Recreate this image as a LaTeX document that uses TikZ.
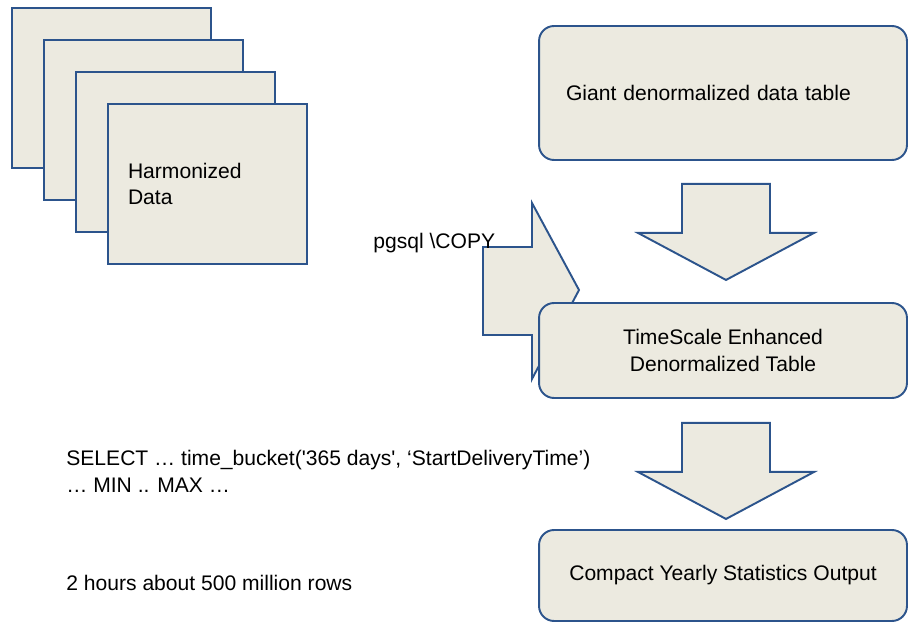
\documentclass[tikz,border=0pt]{standalone}
\usepackage{fontspec}
\setmainfont{Liberation Sans}
\usetikzlibrary{positioning,calc}
\definecolor{dbfill}{RGB}{236,234,224}
\definecolor{dbline}{RGB}{44,84,140}

\begin{document}
\begin{tikzpicture}[x=0.02cm, y=-0.02cm,
    font=\fontsize{12}{15.3}\selectfont,
    page/.style={draw=dbline, fill=dbfill, line width=1.1pt, minimum width=3.98cm, minimum height=3.2cm,
        inner xsep=0.4cm, text width=3.18cm, align=left},
    tablebox/.style={draw=dbline, fill=dbfill, line width=1.1pt, rounded corners=0.3cm, minimum width=7.36cm},
    bigarrow/.style={draw=dbline, fill=dbfill, line width=1.1pt, line join=miter},
    note/.style={inner sep=0pt, anchor=west, align=left}]
    \useasboundingbox (0,0) rectangle (909,625);

    % Stack of harmonized data sheets
    \foreach \i in {0,1,2} {
        \node[page] (page\i) at (111.5+32*\i, 88+32*\i) {};
    }
    \node[page] (page3) at (207.5,184) {Harmonized\\Data};

    % Source table and first step down
    \node[tablebox, minimum height=2.68cm, inner xsep=0.54cm, text width=6.28cm, align=left] (giant) at (723,93)
        {Giant denormalized data table};
    \draw[bigarrow] ($(giant.south)+(-41,23)$) -- ++(88,0) -- ++(0,49) -- ++(44,0)
        -- ++(-88,47) -- ++(-88,-47) -- ++(44,0) -- cycle;

    % COPY arrow, partly hidden behind the hypertable
    \draw[bigarrow] (483,247) -- (532,247) -- (532,203) -- (579,290) -- (532,379) -- (532,335) -- (483,335) -- cycle;
    \node[note] (copy) at (373,243) {pgsql \textbackslash COPY};

    % Hypertable and aggregation step
    \node[tablebox, minimum height=1.9cm, align=center] (hyper) at (723,350.5)
        {TimeScale Enhanced\\Denormalized Table};
    \draw[bigarrow] ($(hyper.south)+(-41,24)$) -- ++(88,0) -- ++(0,49) -- ++(44,0)
        -- ++(-88,47) -- ++(-88,-47) -- ++(44,0) -- cycle;
    \node[tablebox, minimum height=1.82cm] (stats) at (723,575.5) {Compact Yearly Statistics Output};

    % Query and timing notes
    \node[note] (query) at (66,471.5)
        {SELECT … time\_bucket(\textquotesingle 365 days\textquotesingle, ‘StartDeliveryTime’)\\… MIN .. MAX …};
    \node[note] (timing) at (66,583) {2 hours about 500 million rows};
\end{tikzpicture}
\end{document}
